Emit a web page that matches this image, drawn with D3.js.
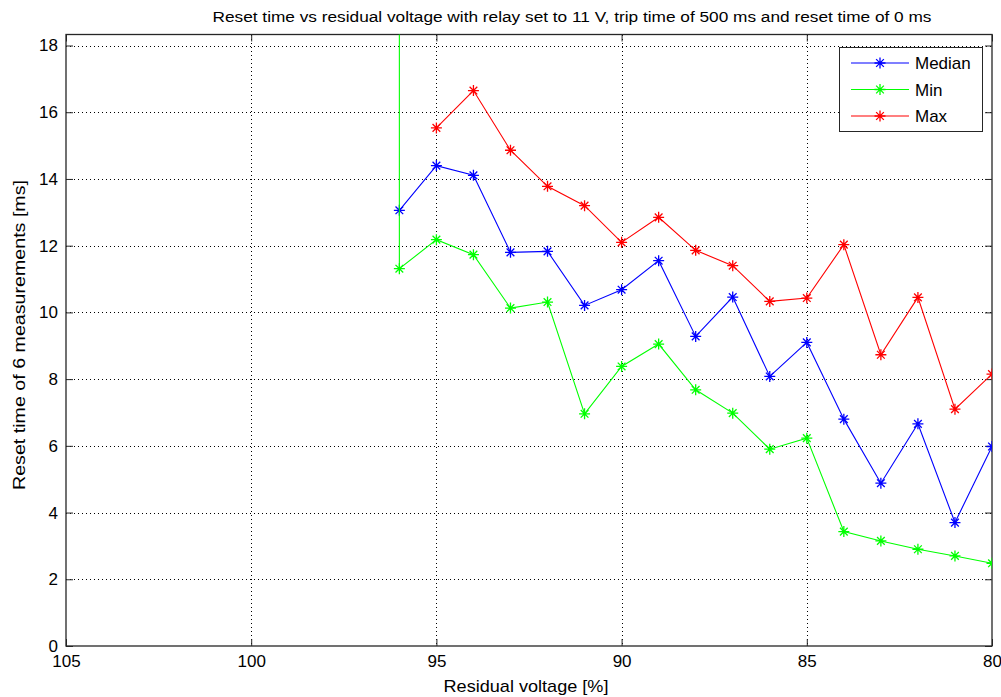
<!DOCTYPE html>
<html>
<head>
<meta charset="utf-8">
<script src="https://cdn.jsdelivr.net/npm/d3@7"></script>
<style>
  body { margin: 0; background: #fff; }
  svg text { font-family: "Liberation Sans", Arial, sans-serif; fill: #000; }
</style>
</head>
<body>
<svg id="chart" width="1001" height="697"></svg>
<script>
// residual voltage [%]
var voltage = [96, 95, 94, 93, 92, 91, 90, 89, 88, 87, 86, 85, 84, 83, 82, 81, 80];

var medianVals = [13.06, 14.4, 14.11, 11.8, 11.83, 10.21, 10.68, 11.55, 9.28, 10.46, 8.08, 9.1, 6.8, 4.88, 6.66, 3.7, 5.98];
// first min sample at 96 % is an outlier far above the axis
var minVoltage = [96, 96, 95, 94, 93, 92, 91, 90, 89, 88, 87, 86, 85, 84, 83, 82, 81, 80];
var minVals = [40, 11.31, 12.18, 11.73, 10.13, 10.31, 6.96, 8.38, 9.05, 7.68, 6.98, 5.9, 6.23, 3.43, 3.15, 2.9, 2.7, 2.48];
var maxVoltage = [95, 94, 93, 92, 91, 90, 89, 88, 87, 86, 85, 84, 83, 82, 81, 80];
var maxVals = [15.53, 16.65, 14.86, 13.78, 13.2, 12.1, 12.85, 11.86, 11.4, 10.33, 10.43, 12.03, 8.73, 10.45, 7.1, 8.15];

var xTicks = [105, 100, 95, 90, 85, 80];
var yTicks = [0, 2, 4, 6, 8, 10, 12, 14, 16, 18];

var series = [
  {name: "Median", color: "#0000ff", x: voltage, y: medianVals},
  {name: "Min", color: "#00ff00", x: minVoltage, y: minVals},
  {name: "Max", color: "#ff0000", x: maxVoltage, y: maxVals}
];

var svg = d3.select("#chart");
var pL = 66, pR = 992, pT = 34.5, pB = 646;

var x = d3.scaleLinear().domain([105, 80]).range([pL, pR]);
var y = d3.scaleLinear().domain([0, 18.33]).range([pB, pT]);

svg.append("defs").append("clipPath").attr("id", "plotclip")
  .append("rect").attr("x", pL).attr("y", pT)
  .attr("width", pR - pL).attr("height", pB - pT);

// grid
var grid = svg.append("g").attr("stroke", "#000").attr("stroke-width", 1)
  .attr("stroke-dasharray", "1,3").attr("shape-rendering", "crispEdges");
grid.selectAll(".gx").data(xTicks.slice(1, -1)).enter().append("line")
  .attr("x1", function(d) { return Math.round(x(d)) + 0.5; })
  .attr("x2", function(d) { return Math.round(x(d)) + 0.5; })
  .attr("y1", pT).attr("y2", pB);
grid.selectAll(".gy").data(yTicks.slice(1)).enter().append("line")
  .attr("y1", function(d) { return Math.round(y(d)) + 0.5; })
  .attr("y2", function(d) { return Math.round(y(d)) + 0.5; })
  .attr("x1", pL).attr("x2", pR);

// axes with inward ticks on all sides
var tk = 7;
svg.append("g").attr("transform", "translate(0," + pB + ")")
  .call(d3.axisBottom(x).tickValues(xTicks).tickSizeInner(-tk).tickSizeOuter(0).tickPadding(9))
  .call(function(g) { g.select(".domain").remove(); });
svg.append("g").attr("transform", "translate(0," + pT + ")")
  .call(d3.axisTop(x).tickValues(xTicks).tickSizeInner(-tk).tickSizeOuter(0).tickFormat(""))
  .call(function(g) { g.select(".domain").remove(); });
svg.append("g").attr("transform", "translate(" + pL + ",0)")
  .call(d3.axisLeft(y).tickValues(yTicks).tickSizeInner(-tk).tickSizeOuter(0).tickPadding(8))
  .call(function(g) { g.select(".domain").remove(); });
svg.append("g").attr("transform", "translate(" + pR + ",0)")
  .call(d3.axisRight(y).tickValues(yTicks).tickSizeInner(-tk).tickSizeOuter(0).tickFormat(""))
  .call(function(g) { g.select(".domain").remove(); });

svg.selectAll(".tick line").attr("stroke", "#262626");
svg.selectAll(".tick text").attr("font-size", 17).attr("fill", "#000")
  .style("font-family", "Liberation Sans, Arial, sans-serif");

svg.append("rect").attr("x", pL).attr("y", pT)
  .attr("width", pR - pL).attr("height", pB - pT)
  .attr("fill", "none").attr("stroke", "#262626").attr("stroke-width", 1.3);

// asterisk marker
function star(s) {
  var d = s * 0.7;
  return "M" + (-s) + ",0L" + s + ",0M0," + (-s) + "L0," + s +
    "M" + (-d) + "," + (-d) + "L" + d + "," + d + "M" + (-d) + "," + d + "L" + d + "," + (-d);
}

var plot = svg.append("g").attr("clip-path", "url(#plotclip)");
var line = d3.line().x(function(d) { return x(d[0]); }).y(function(d) { return y(d[1]); });

series.forEach(function(s) {
  var pts = s.x.map(function(v, i) { return [v, s.y[i]]; });
  plot.append("path").datum(pts).attr("d", line)
    .attr("fill", "none").attr("stroke", s.color).attr("stroke-width", 1.1);
  plot.selectAll(null).data(pts).enter().append("path")
    .attr("transform", function(d) { return "translate(" + x(d[0]) + "," + y(d[1]) + ")"; })
    .attr("d", star(5.5)).attr("stroke", s.color).attr("stroke-width", 1.3).attr("fill", "none");
});

// legend
var lg = svg.append("g");
lg.append("rect").attr("x", 839.5).attr("y", 47.5).attr("width", 143).attr("height", 84)
  .attr("fill", "#fff").attr("stroke", "#262626").attr("stroke-width", 1);
series.forEach(function(s, i) {
  var ly = 63 + i * 26.5;
  lg.append("line").attr("x1", 851).attr("x2", 909).attr("y1", ly).attr("y2", ly)
    .attr("stroke", s.color).attr("stroke-width", 1.1);
  lg.append("path").attr("transform", "translate(880," + ly + ")")
    .attr("d", star(5.5)).attr("stroke", s.color).attr("stroke-width", 1.3).attr("fill", "none");
  lg.append("text").attr("x", 915).attr("y", ly + 6).attr("font-size", 17).text(s.name);
});

// titles
svg.append("text").attr("x", 572).attr("y", 22).attr("text-anchor", "middle")
  .attr("font-size", 14).attr("textLength", 719).attr("lengthAdjust", "spacingAndGlyphs")
  .text("Reset time vs residual voltage with relay set to 11 V, trip time of 500 ms and reset time of 0 ms");
svg.append("text").attr("x", 526).attr("y", 692).attr("text-anchor", "middle")
  .attr("font-size", 17).attr("textLength", 165).attr("lengthAdjust", "spacingAndGlyphs")
  .text("Residual voltage [%]");
svg.append("text").attr("transform", "translate(25," + 335 + ") rotate(-90)")
  .attr("text-anchor", "middle").attr("font-size", 17).attr("textLength", 310)
  .attr("lengthAdjust", "spacingAndGlyphs").text("Reset time of 6 measurements [ms]");
</script>
</body>
</html>
